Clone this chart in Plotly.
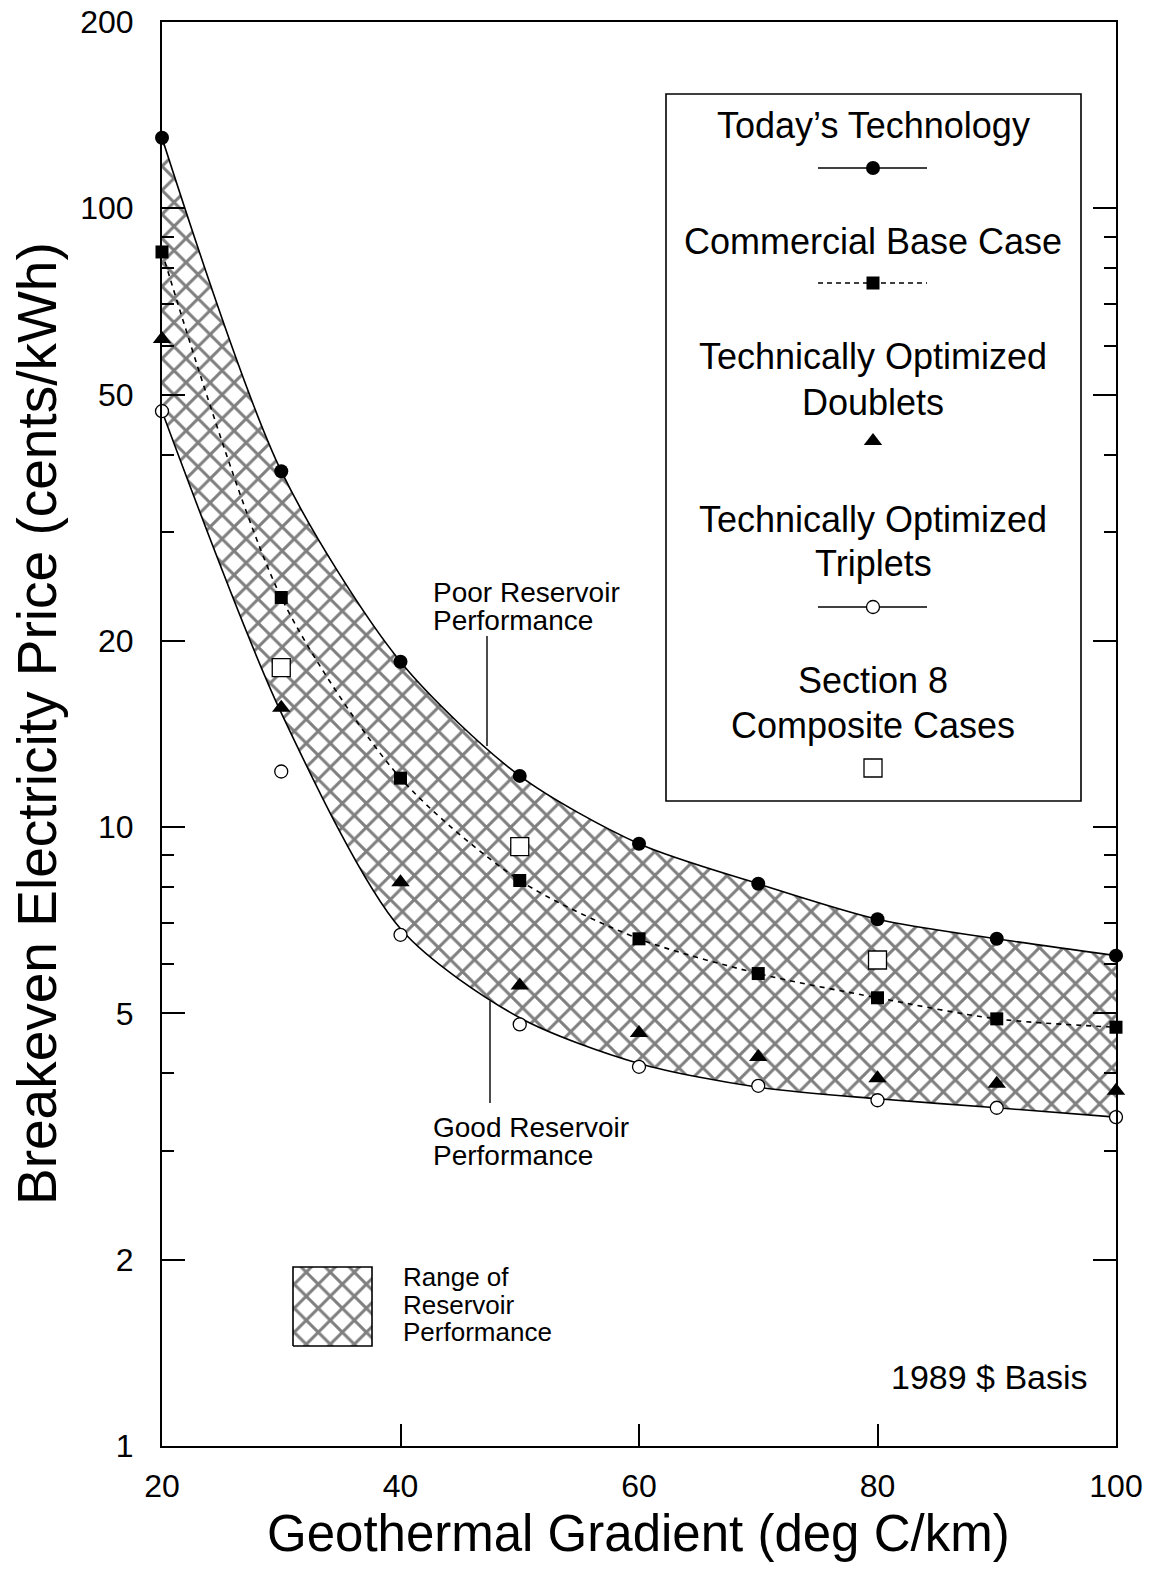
import plotly.graph_objects as go

# ---- data -------------------------------------------------------------
GRADIENT = [20, 30, 40, 50, 60, 70, 80, 90, 100]          # deg C/km

TODAY = [130, 37.6, 18.5, 12.1, 9.4, 8.1, 7.1, 6.6, 6.2]   # Today's Technology
BASE_CASE = [85, 23.5, 12.0, 8.2, 6.6, 5.8, 5.3, 4.9, 4.75]
DOUBLETS = [61.5, 15.6, 8.15, 5.55, 4.65, 4.25, 3.93, 3.85, 3.75]
TRIPLETS = [47, 12.3, 6.7, 4.8, 4.1, 3.82, 3.62, 3.52, 3.4]

COMPOSITE_X = [30, 50, 80]                                  # Section 8 composite cases
COMPOSITE = [18.1, 9.3, 6.1]

# range of reservoir performance: poor (upper) and good (lower) edges
POOR_RESERVOIR = TODAY
GOOD_RESERVOIR = [47, 15.3, 6.85, 4.92, 4.15, 3.8, 3.64, 3.52, 3.4]

Y_TICKS = [1, 2, 5, 10, 20, 50, 100, 200]
Y_MINOR = [3, 4, 6, 7, 8, 9, 30, 40, 60, 70, 80, 90]
X_TICKS = [20, 40, 60, 80, 100]

# ---- layout geometry (pixels) ----------------------------------------
W, H = 1151, 1570
L, R, T, B = 162, 1116, 22, 1446
FONT = "Liberation Sans, Arial, Helvetica, sans-serif"


def fx(px):
    return (px - L) / (R - L)


def fy(py):
    return (B - py) / (B - T)


HATCH = dict(shape="x", size=17, solidity=0.32, fgcolor="black", bgcolor="white")

fig = go.Figure()

# hatched band
fig.add_trace(go.Scatter(
    x=GRADIENT, y=GOOD_RESERVOIR, mode="lines",
    line=dict(color="black", width=1.6, shape="spline", smoothing=0.8),
    hoverinfo="skip", showlegend=False))
fig.add_trace(go.Scatter(
    x=GRADIENT, y=POOR_RESERVOIR, mode="lines", fill="tonexty",
    fillpattern=HATCH, fillcolor="white",
    line=dict(color="black", width=1.6, shape="spline", smoothing=0.8),
    hoverinfo="skip", showlegend=False))

# commercial base case
fig.add_trace(go.Scatter(
    x=GRADIENT, y=BASE_CASE, mode="lines+markers", cliponaxis=False,
    line=dict(color="black", width=1.6, dash="5px,5px", shape="spline", smoothing=0.8),
    marker=dict(symbol="square", size=13, color="black"),
    name="Commercial Base Case", showlegend=False))

fig.add_trace(go.Scatter(
    x=GRADIENT, y=TODAY, mode="markers", cliponaxis=False,
    marker=dict(symbol="circle", size=14, color="black"),
    name="Today's Technology", showlegend=False))
fig.add_trace(go.Scatter(
    x=GRADIENT, y=DOUBLETS, mode="markers", cliponaxis=False,
    marker=dict(symbol="triangle-up", size=16, color="black"),
    name="Technically Optimized Doublets", showlegend=False))
fig.add_trace(go.Scatter(
    x=GRADIENT, y=TRIPLETS, mode="markers", cliponaxis=False,
    marker=dict(symbol="circle", size=13, color="white", line=dict(color="black", width=1.3)),
    name="Technically Optimized Triplets", showlegend=False))
fig.add_trace(go.Scatter(
    x=COMPOSITE_X, y=COMPOSITE, mode="markers", cliponaxis=False,
    marker=dict(symbol="square", size=18, color="white", line=dict(color="black", width=1.3)),
    name="Section 8 Composite Cases", showlegend=False))

# ---- key samples on an overlay (0..1) axis pair ----------------------
def key_line(py, dash=None):
    fig.add_trace(go.Scatter(
        x=[fx(818), fx(927)], y=[fy(py), fy(py)], mode="lines",
        line=dict(color="black", width=1.6, dash=dash),
        xaxis="x2", yaxis="y2", hoverinfo="skip", showlegend=False))


def key_marker(py, **marker):
    fig.add_trace(go.Scatter(
        x=[fx(873)], y=[fy(py)], mode="markers", marker=marker,
        xaxis="x2", yaxis="y2", hoverinfo="skip", showlegend=False))


key_line(168)
key_marker(168, symbol="circle", size=14, color="black")
key_line(283, dash="5px,4px")
key_marker(283, symbol="square", size=13, color="black")
key_marker(441, symbol="triangle-up", size=16, color="black")
key_line(607)
key_marker(607, symbol="circle", size=13, color="white", line=dict(color="black", width=1.3))
key_marker(768, symbol="square", size=18, color="white", line=dict(color="black", width=1.3))

# hatched key box for the band
fig.add_trace(go.Scatter(
    x=[fx(293), fx(372), fx(372), fx(293), fx(293)],
    y=[fy(1346), fy(1346), fy(1267), fy(1267), fy(1346)],
    mode="lines", fill="toself", fillpattern=HATCH, fillcolor="white",
    line=dict(color="black", width=1.6),
    xaxis="x2", yaxis="y2", hoverinfo="skip", showlegend=False))

# ---- annotations -----------------------------------------------------
ann = []


def text(s, px, py, size, xanchor="center", **kw):
    ann.append(dict(text=s, x=fx(px), y=fy(py), xref="paper", yref="paper",
                    xanchor=xanchor, yanchor="middle", showarrow=False,
                    font=dict(family=FONT, size=size, color="black"), **kw))


# key text
LEG = 36
text("Today\u2019s Technology", 873, 126, LEG)
text("Commercial Base Case", 873, 242, LEG)
text("Technically Optimized", 873, 357, LEG)
text("Doublets", 873, 402, LEG)
text("Technically Optimized", 873, 519, LEG)
text("Triplets", 873, 563, LEG)
text("Section 8", 873, 680, LEG)
text("Composite Cases", 873, 725, LEG)

# reservoir labels
text("Poor Reservoir", 431, 592, 28, xanchor="left")
text("Performance", 431, 620, 28, xanchor="left")
text("Good Reservoir", 431, 1127, 28, xanchor="left")
text("Performance", 431, 1155, 28, xanchor="left")

text("Range of", 401, 1277, 26, xanchor="left")
text("Reservoir", 401, 1304.5, 26, xanchor="left")
text("Performance", 401, 1332, 26, xanchor="left")

text("1989 $ Basis", 989, 1377, 34)

# axis titles
text("Geothermal Gradient (deg C/km)", 638, 1533, 51)
text("Breakeven Electricity Price (cents/kWh)", 37, 724, 55, textangle=-90)

shapes = [
    # key frame
    dict(type="rect", xref="paper", yref="paper",
         x0=fx(666), x1=fx(1081), y0=fy(801), y1=fy(94),
         line=dict(color="black", width=1.6), fillcolor="rgba(0,0,0,0)"),
    # leader lines
    dict(type="line", xref="paper", yref="paper",
         x0=fx(487), x1=fx(487), y0=fy(636), y1=fy(746),
         line=dict(color="black", width=1.4)),
    dict(type="line", xref="paper", yref="paper",
         x0=fx(490), x1=fx(490), y0=fy(1001), y1=fy(1103),
         line=dict(color="black", width=1.4)),
]

fig.update_layout(
    width=W, height=H,
    margin=dict(l=L, r=W - R, t=T, b=H - B, pad=0, autoexpand=False),
    paper_bgcolor="white", plot_bgcolor="white",
    font=dict(family=FONT, color="black"),
    showlegend=False,
    annotations=ann, shapes=shapes,
    xaxis=dict(
        range=[20, 100], tickmode="array", tickvals=X_TICKS,
        ticks="inside", ticklen=22, tickwidth=1.5, tickcolor="black",
        showline=True, linewidth=2, linecolor="black", mirror=True,
        showgrid=False, zeroline=False, automargin=False,
        tickfont=dict(family=FONT, size=32, color="black"),
        ticklabelstandoff=11,
    ),
    yaxis=dict(
        type="log", range=[0, 2.30103], tickmode="array", tickvals=Y_TICKS,
        ticktext=[str(v) for v in Y_TICKS],
        ticks="inside", ticklen=23, tickwidth=1.5, tickcolor="black",
        minor=dict(tickmode="array", tickvals=Y_MINOR, ticks="inside",
                   ticklen=12, tickwidth=1.5, tickcolor="black", showgrid=False),
        showline=True, linewidth=2, linecolor="black", mirror="ticks",
        showgrid=False, zeroline=False, automargin=False,
        tickfont=dict(family=FONT, size=32, color="black"),
        ticklabelstandoff=20,
    ),
    xaxis2=dict(domain=[0, 1], range=[0, 1], overlaying="x", anchor="y2",
                visible=False, fixedrange=True),
    yaxis2=dict(domain=[0, 1], range=[0, 1], overlaying="y", anchor="x2",
                visible=False, fixedrange=True),
)

fig.write_html("out.html")
